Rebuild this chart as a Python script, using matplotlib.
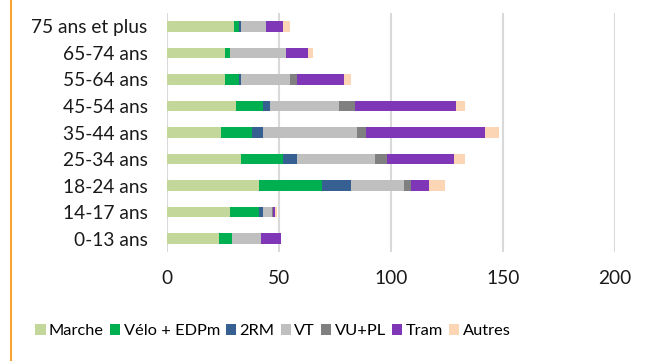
import matplotlib
matplotlib.use("Agg")
import matplotlib.pyplot as plt
from matplotlib.lines import Line2D
import numpy as np

plt.rcParams['font.family'] = ['Lato', 'DejaVu Sans']

categories = ["75 ans et plus", "65-74 ans", "55-64 ans", "45-54 ans", "35-44 ans",
              "25-34 ans", "18-24 ans", "14-17 ans", "0-13 ans"]
series_names = ["Marche", "Vélo + EDPm", "2RM", "VT", "VU+PL", "Tram", "Autres"]
marche = [30, 26, 26, 31, 24, 33, 41, 28, 23]
velo   = [2, 2, 6, 12, 14, 19, 28, 13, 6]
deuxrm = [1, 0, 1, 3, 5, 6, 13, 2, 0]
vt     = [11, 25, 22, 31, 42, 35, 24, 4, 13]
vupl   = [0, 0, 3, 7, 4, 5, 3, 0.3, 0]
tram   = [8, 10, 21, 45, 53, 30, 8, 1, 9]
autres = [3, 2, 3, 4, 6, 5, 7, 0.7, 0]
xticks = [0, 50, 100, 150, 200]

colors = ["#C4D79B", "#00B050", "#366092", "#BFBFBF", "#808080", "#7F37B7", "#FCD5B4"]
data = [marche, velo, deuxrm, vt, vupl, tram, autres]

fig = plt.figure(figsize=(6.49, 3.61), dpi=100)
ax = fig.add_axes([167/649, 1-252/361, (615-167)/649, (252-13)/361])

y = np.arange(len(categories))[::-1]
left = np.zeros(len(categories))
for name, vals, c in zip(series_names, data, colors):
    ax.barh(y, vals, left=left, height=0.4, color=c, label=name, zorder=3)
    left += np.array(vals)

ax.set_xlim(0, 200)
ax.set_ylim(-0.5, len(categories) - 0.5)
ax.set_yticks(y)
ax.set_yticklabels(categories, fontsize=13.8, color="#1a1a1a")
ax.set_xticks(xticks)
ax.set_xticklabels([str(t) for t in xticks], fontsize=13.8, color="#1a1a1a")
ax.tick_params(length=0)
ax.tick_params(axis='x', pad=13)
ax.tick_params(axis='y', pad=14)
ax.grid(axis='x', color="#D9D9D9", linewidth=1.5, zorder=0)
for s in ax.spines.values():
    s.set_visible(False)

fig.legend(*ax.get_legend_handles_labels(), loc='center', ncol=7,
           bbox_to_anchor=(273/649, 1-331/361), frameon=False, fontsize=11.8,
           handlelength=0.62, handleheight=0.62, handletextpad=0.2, columnspacing=0.38,
           borderaxespad=0, borderpad=0)

fig.add_artist(Line2D([11/649, 11/649], [0, 1], transform=fig.transFigure,
                      color="#F5A631", linewidth=1.5))

fig.savefig("out.png", dpi=100)
